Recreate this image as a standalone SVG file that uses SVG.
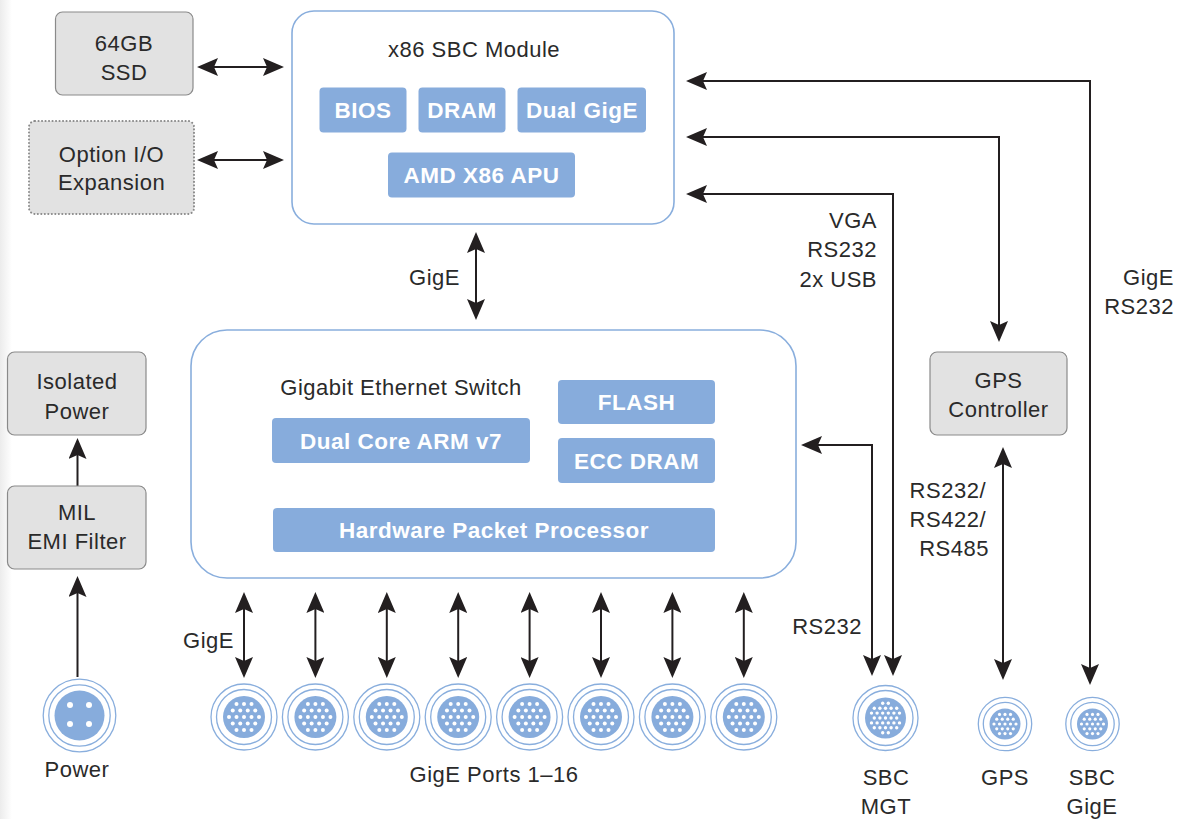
<svg xmlns="http://www.w3.org/2000/svg" xmlns:xlink="http://www.w3.org/1999/xlink" width="1178" height="819" viewBox="0 0 1178 819">
<style>
.t{font-family:"Liberation Sans",Arial,sans-serif;font-size:22px;fill:#2a2a2a;letter-spacing:0.5px}
.c{text-anchor:middle}
.e{text-anchor:end}
.b{font-family:"Liberation Sans",Arial,sans-serif;font-size:22.5px;font-weight:bold;fill:#ffffff;text-anchor:middle;letter-spacing:0.5px}
.blk{fill:#ffffff;stroke:#89aedd;stroke-width:1.6}
.chip{fill:#87acdc}
.gray{fill:#e2e2e2;stroke:#8a8a8a;stroke-width:1.2}
.dot{fill:#e2e2e2;stroke:#8a8a8a;stroke-width:2;stroke-dasharray:0.1 3.4;stroke-linecap:round}
.ln{fill:none;stroke:#231f20;stroke-width:2}
.ring{fill:none;stroke:#89aedd;stroke-width:1.3}
.disc{fill:#87acdc}
.pin{fill:#ffffff}
</style>
<defs>
<linearGradient id="edge" x1="0" x2="1" y1="0" y2="0">
<stop offset="0" stop-color="#ececec"/>
<stop offset="1" stop-color="#ffffff"/>
</linearGradient>
<marker id="ah" viewBox="0 0 21 18" refX="17" refY="9" markerWidth="21" markerHeight="18" markerUnits="userSpaceOnUse" orient="auto-start-reverse">
<path d="M0,0 L21,9 L0,18 L4,9 z" fill="#231f20"/>
</marker>
<g id="portBig">
<circle class="ring" r="33"/>
<circle class="ring" r="27.5"/>
<circle class="disc" r="21"/>
<g class="pin">
<circle cx="-7.5" cy="-13" r="2"/><circle cx="0" cy="-13" r="2"/><circle cx="7.5" cy="-13" r="2"/>
<circle cx="-11.25" cy="-6.5" r="2"/><circle cx="-3.75" cy="-6.5" r="2"/><circle cx="3.75" cy="-6.5" r="2"/><circle cx="11.25" cy="-6.5" r="2"/>
<circle cx="-15" cy="0" r="2"/><circle cx="-7.5" cy="0" r="2"/><circle cx="0" cy="0" r="2"/><circle cx="7.5" cy="0" r="2"/><circle cx="15" cy="0" r="2"/>
<circle cx="-11.25" cy="6.5" r="2"/><circle cx="-3.75" cy="6.5" r="2"/><circle cx="3.75" cy="6.5" r="2"/><circle cx="11.25" cy="6.5" r="2"/>
<circle cx="-7.5" cy="13" r="2"/><circle cx="0" cy="13" r="2"/><circle cx="7.5" cy="13" r="2"/>
</g>
</g>
<g id="portMgt">
<circle class="ring" r="32.5"/>
<circle class="ring" r="27.5"/>
<circle class="disc" r="20.5"/>
<g class="pin">
<circle cx="-2.8" cy="-14.7" r="1.7"/><circle cx="2.8" cy="-14.7" r="1.7"/>
<circle cx="-11.2" cy="-9.8" r="1.7"/><circle cx="-5.6" cy="-9.8" r="1.7"/><circle cx="0" cy="-9.8" r="1.7"/><circle cx="5.6" cy="-9.8" r="1.7"/><circle cx="11.2" cy="-9.8" r="1.7"/>
<circle cx="-14" cy="-4.9" r="1.7"/><circle cx="-8.4" cy="-4.9" r="1.7"/><circle cx="-2.8" cy="-4.9" r="1.7"/><circle cx="2.8" cy="-4.9" r="1.7"/><circle cx="8.4" cy="-4.9" r="1.7"/><circle cx="14" cy="-4.9" r="1.7"/>
<circle cx="-11.2" cy="0" r="1.7"/><circle cx="-5.6" cy="0" r="1.7"/><circle cx="0" cy="0" r="1.7"/><circle cx="5.6" cy="0" r="1.7"/><circle cx="11.2" cy="0" r="1.7"/>
<circle cx="-14" cy="4.9" r="1.7"/><circle cx="-8.4" cy="4.9" r="1.7"/><circle cx="-2.8" cy="4.9" r="1.7"/><circle cx="2.8" cy="4.9" r="1.7"/><circle cx="8.4" cy="4.9" r="1.7"/><circle cx="14" cy="4.9" r="1.7"/>
<circle cx="-11.2" cy="9.8" r="1.7"/><circle cx="-5.6" cy="9.8" r="1.7"/><circle cx="0" cy="9.8" r="1.7"/><circle cx="5.6" cy="9.8" r="1.7"/><circle cx="11.2" cy="9.8" r="1.7"/>
<circle cx="-2.8" cy="14.7" r="1.7"/><circle cx="2.8" cy="14.7" r="1.7"/>
</g>
</g>
<g id="portSmall">
<circle class="ring" r="26.7"/>
<circle class="ring" r="21.7"/>
<circle class="disc" r="15.5"/>
<g class="pin">
<circle cx="-5.5" cy="-9.6" r="1.6"/><circle cx="0" cy="-9.6" r="1.6"/><circle cx="5.5" cy="-9.6" r="1.6"/>
<circle cx="-8.25" cy="-4.8" r="1.6"/><circle cx="-2.75" cy="-4.8" r="1.6"/><circle cx="2.75" cy="-4.8" r="1.6"/><circle cx="8.25" cy="-4.8" r="1.6"/>
<circle cx="-11" cy="0" r="1.6"/><circle cx="-5.5" cy="0" r="1.6"/><circle cx="0" cy="0" r="1.6"/><circle cx="5.5" cy="0" r="1.6"/><circle cx="11" cy="0" r="1.6"/>
<circle cx="-8.25" cy="4.8" r="1.6"/><circle cx="-2.75" cy="4.8" r="1.6"/><circle cx="2.75" cy="4.8" r="1.6"/><circle cx="8.25" cy="4.8" r="1.6"/>
<circle cx="-5.5" cy="9.6" r="1.6"/><circle cx="0" cy="9.6" r="1.6"/><circle cx="5.5" cy="9.6" r="1.6"/>
</g>
</g>
</defs>
<rect x="0" y="0" width="1178" height="819" fill="#ffffff"/>
<rect x="0" y="0" width="12" height="819" fill="url(#edge)"/>

<g id="connectors">
<path class="ln" d="M201,67 H280" marker-start="url(#ah)" marker-end="url(#ah)"/>
<path class="ln" d="M201,160 H280" marker-start="url(#ah)" marker-end="url(#ah)"/>
<path class="ln" d="M476,236 V316" marker-start="url(#ah)" marker-end="url(#ah)"/>
<path class="ln" d="M690,81 H1090 V681" marker-start="url(#ah)" marker-end="url(#ah)"/>
<path class="ln" d="M690,137 H999 V338" marker-start="url(#ah)" marker-end="url(#ah)"/>
<path class="ln" d="M690,194 H893 V672" marker-start="url(#ah)" marker-end="url(#ah)"/>
<path class="ln" d="M805,445 H872 V672" marker-start="url(#ah)" marker-end="url(#ah)"/>
<path class="ln" d="M1003,451 V676" marker-start="url(#ah)" marker-end="url(#ah)"/>
<path class="ln" d="M244,596 V674" marker-start="url(#ah)" marker-end="url(#ah)"/>
<path class="ln" d="M315.4,596 V674" marker-start="url(#ah)" marker-end="url(#ah)"/>
<path class="ln" d="M386.8,596 V674" marker-start="url(#ah)" marker-end="url(#ah)"/>
<path class="ln" d="M458.2,596 V674" marker-start="url(#ah)" marker-end="url(#ah)"/>
<path class="ln" d="M529.6,596 V674" marker-start="url(#ah)" marker-end="url(#ah)"/>
<path class="ln" d="M601,596 V674" marker-start="url(#ah)" marker-end="url(#ah)"/>
<path class="ln" d="M672.4,596 V674" marker-start="url(#ah)" marker-end="url(#ah)"/>
<path class="ln" d="M743.8,596 V674" marker-start="url(#ah)" marker-end="url(#ah)"/>
<path class="ln" d="M77.5,677 V580" marker-end="url(#ah)"/>
<path class="ln" d="M77.5,486 V442" marker-end="url(#ah)"/>
<text class="t e" x="460" y="285">GigE</text>
<text class="t e" x="234" y="648">GigE</text>
<text class="t e" x="877" y="228">VGA</text>
<text class="t e" x="877" y="257">RS232</text>
<text class="t e" x="877" y="287">2x USB</text>
<text class="t e" x="1174" y="285">GigE</text>
<text class="t e" x="1174" y="314">RS232</text>
<text class="t e" x="986" y="498">RS232/</text>
<text class="t e" x="986" y="527">RS422/</text>
<text class="t e" x="989" y="556">RS485</text>
<text class="t e" x="862" y="634">RS232</text>
</g>

<g id="ssd">
<rect class="gray" x="55.5" y="12" width="137.5" height="83" rx="7"/>
<text class="t c" x="124" y="51">64GB</text>
<text class="t c" x="124" y="80">SSD</text>
</g>
<g id="option-io">
<rect class="dot" x="29" y="121" width="165" height="93" rx="6"/>
<text class="t c" x="111.5" y="162">Option I/O</text>
<text class="t c" x="111.5" y="190">Expansion</text>
</g>

<g id="x86-sbc">
<rect class="blk" x="292" y="11" width="382" height="213" rx="22"/>
<text class="t c" x="474" y="57">x86 SBC Module</text>
<rect class="chip" x="319.5" y="87.5" width="87" height="45" rx="4"/>
<text class="b" x="363" y="117.5">BIOS</text>
<rect class="chip" x="418.5" y="87.5" width="87" height="45" rx="4"/>
<text class="b" x="462" y="117.5">DRAM</text>
<rect class="chip" x="517.5" y="87.5" width="128.5" height="45" rx="4"/>
<text class="b" x="582" y="117.5">Dual GigE</text>
<rect class="chip" x="388" y="152.5" width="187" height="45" rx="4"/>
<text class="b" x="481.5" y="182.5">AMD X86 APU</text>
</g>

<g id="gige-switch">
<rect class="blk" x="191" y="330" width="605" height="248" rx="36"/>
<text class="t c" x="401" y="395">Gigabit Ethernet Switch</text>
<rect class="chip" x="272" y="418" width="258" height="45" rx="4"/>
<text class="b" x="401" y="448.5">Dual Core ARM v7</text>
<rect class="chip" x="558" y="380" width="157" height="44" rx="4"/>
<text class="b" x="636.5" y="410">FLASH</text>
<rect class="chip" x="558" y="438" width="157" height="45" rx="4"/>
<text class="b" x="636.5" y="468.5">ECC DRAM</text>
<rect class="chip" x="273" y="508" width="442" height="44" rx="4"/>
<text class="b" x="494" y="538">Hardware Packet Processor</text>
</g>

<g id="isolated-power">
<rect class="gray" x="7.5" y="352" width="138.5" height="83" rx="7"/>
<text class="t c" x="77" y="389">Isolated</text>
<text class="t c" x="77" y="419">Power</text>
</g>
<g id="mil-emi">
<rect class="gray" x="7.5" y="486" width="138.5" height="83" rx="7"/>
<text class="t c" x="77" y="520">MIL</text>
<text class="t c" x="77" y="549">EMI Filter</text>
</g>
<g id="gps-controller">
<rect class="gray" x="930" y="352" width="137" height="83" rx="7"/>
<text class="t c" x="998.5" y="388">GPS</text>
<text class="t c" x="998.5" y="417">Controller</text>
</g>

<g id="power-connector">
<circle class="ring" cx="79.5" cy="715.5" r="36.3"/>
<circle class="ring" cx="79.5" cy="715.5" r="30.7"/>
<circle class="disc" cx="79.5" cy="715.5" r="25"/>
<circle class="pin" cx="70" cy="705" r="3"/>
<circle class="pin" cx="89" cy="705" r="3"/>
<circle class="pin" cx="70" cy="724" r="3"/>
<circle class="pin" cx="89" cy="724" r="3"/>
<text class="t c" x="77" y="777">Power</text>
</g>

<g id="gige-ports">
<use xlink:href="#portBig" href="#portBig" x="244" y="717"/>
<use xlink:href="#portBig" href="#portBig" x="315.4" y="717"/>
<use xlink:href="#portBig" href="#portBig" x="386.8" y="717"/>
<use xlink:href="#portBig" href="#portBig" x="458.2" y="717"/>
<use xlink:href="#portBig" href="#portBig" x="529.6" y="717"/>
<use xlink:href="#portBig" href="#portBig" x="601" y="717"/>
<use xlink:href="#portBig" href="#portBig" x="672.4" y="717"/>
<use xlink:href="#portBig" href="#portBig" x="743.8" y="717"/>
<text class="t c" x="494" y="782">GigE Ports 1–16</text>
</g>

<g id="sbc-mgt">
<use xlink:href="#portMgt" href="#portMgt" x="885.5" y="718"/>
<text class="t c" x="886" y="785">SBC</text>
<text class="t c" x="886" y="814">MGT</text>
</g>
<g id="gps-port">
<use xlink:href="#portSmall" href="#portSmall" x="1005" y="724"/>
<text class="t c" x="1005" y="785">GPS</text>
</g>
<g id="sbc-gige">
<use xlink:href="#portSmall" href="#portSmall" x="1092.5" y="724"/>
<text class="t c" x="1092" y="785">SBC</text>
<text class="t c" x="1092" y="814">GigE</text>
</g>
</svg>
